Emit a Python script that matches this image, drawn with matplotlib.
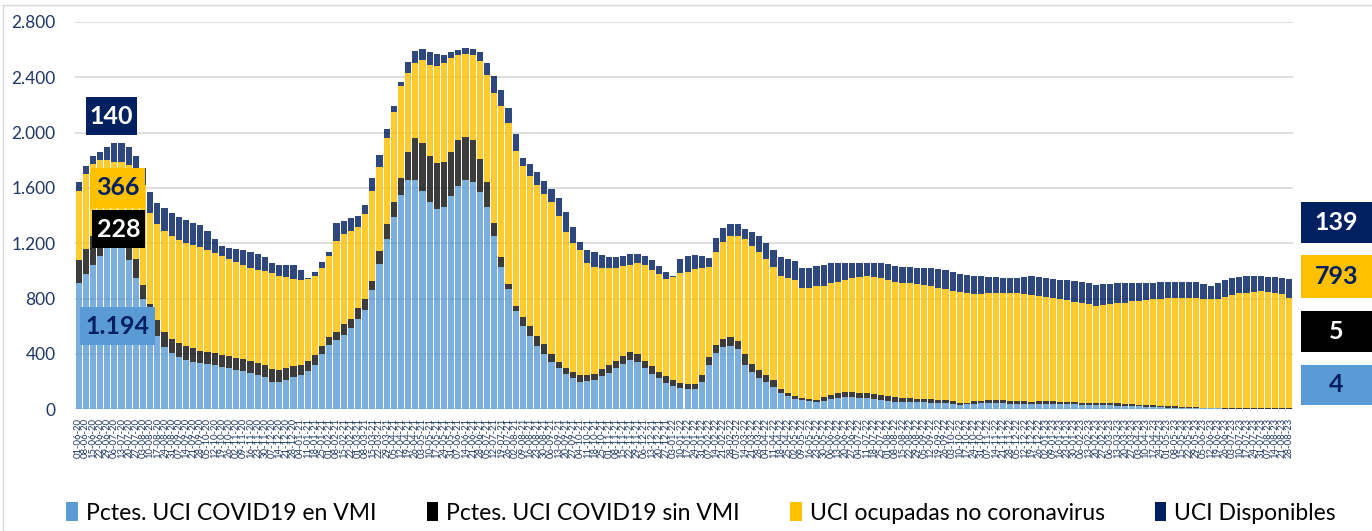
import matplotlib
matplotlib.use("Agg")
import matplotlib.pyplot as plt
import numpy as np
import pandas as pd
from matplotlib.patches import Rectangle, Patch
from matplotlib.lines import Line2D

# ---------------- data (weekly) ----------------
fechas = pd.date_range("2020-06-01", "2023-08-28", freq="7D").strftime("%d-%m-%y").tolist()

# stacked levels (top of each layer)
tope_vmi = [
    912, 975, 1040, 1110, 1165, 1194, 1170, 1080, 950, 800,
    650, 530, 450, 410, 380, 357, 345, 335, 325, 318,
    305, 295, 285, 275, 265, 250, 235, 200, 195, 215,
    235, 250, 280, 320, 400, 465, 500, 540, 590, 650,
    720, 860, 1050, 1230, 1390, 1550, 1660, 1660, 1580, 1500,
    1445, 1460, 1540, 1615, 1655, 1640, 1570, 1465, 1250, 1030,
    870, 710, 600, 530, 460, 400, 340, 300, 255, 225,
    200, 205, 210, 240, 265, 295, 330, 357, 340, 295,
    255, 225, 190, 170, 152, 145, 145, 200, 320, 410,
    450, 460, 435, 320, 270, 228, 195, 164, 115, 95,
    75, 65, 60, 56, 62, 72, 82, 91, 88, 83,
    80, 74, 68, 62, 56, 55, 55, 53, 51, 49,
    47, 44, 38, 31, 36, 41, 43, 43, 43, 42,
    40, 40, 39, 39, 39, 39, 38, 37, 36, 35,
    34, 33, 32, 31, 29, 27, 25, 23, 21, 19,
    17, 15, 13, 12, 11, 10, 9, 8, 7, 6,
    5, 5, 5, 5, 5, 5, 4, 4, 4, 4,
]
tope_sin_vmi = [
    1081, 1160, 1250, 1330, 1390, 1422, 1400, 1260, 1090, 900,
    760, 647, 560, 510, 480, 455, 440, 425, 415, 405,
    395, 385, 372, 362, 350, 335, 320, 290, 284, 300,
    312, 322, 350, 390, 455, 520, 560, 615, 655, 730,
    800, 930, 1145, 1340, 1500, 1675, 1860, 1960, 1925, 1830,
    1779, 1785, 1860, 1945, 1970, 1950, 1810, 1640, 1350, 1100,
    905, 750, 670, 600, 530, 470, 400, 345, 300, 270,
    248, 250, 258, 290, 320, 350, 385, 417, 400, 350,
    315, 270, 240, 210, 188, 182, 180, 245, 380, 465,
    510, 520, 495, 400, 330, 285, 245, 212, 150, 120,
    95, 80, 72, 68, 90, 104, 115, 127, 125, 121,
    115, 108, 104, 96, 88, 84, 81, 78, 75, 72,
    70, 67, 58, 46, 48, 58, 63, 65, 67, 64,
    61, 60, 57, 55, 58, 60, 58, 55, 54, 51,
    48, 48, 48, 45, 43, 42, 40, 38, 34, 31,
    29, 26, 24, 21, 19, 17, 14, 12, 10, 10,
    10, 10, 10, 10, 10, 10, 10, 10, 10, 9,
]
tope_ocupadas = [
    1576, 1700, 1770, 1800, 1800, 1788, 1790, 1765, 1720, 1620,
    1420, 1340, 1290, 1255, 1225, 1205, 1190, 1172, 1150, 1128,
    1110, 1085, 1062, 1045, 1025, 1010, 997, 985, 965, 955,
    945, 935, 945, 965, 1020, 1110, 1220, 1265, 1290, 1320,
    1410, 1580, 1755, 1960, 2150, 2340, 2430, 2505, 2525, 2490,
    2485, 2505, 2540, 2565, 2572, 2563, 2515, 2420, 2290, 2190,
    2070, 1870, 1760, 1685, 1620, 1560, 1500, 1400, 1285, 1205,
    1150, 1055, 1030, 1019, 1019, 1019, 1035, 1045, 1055, 1040,
    1010, 975, 940, 955, 983, 995, 1015, 1025, 1030, 1140,
    1210, 1250, 1255, 1230, 1180, 1135, 1090, 1031, 965, 950,
    938, 880, 880, 888, 893, 910, 922, 938, 950, 960,
    962, 955, 946, 932, 918, 914, 912, 908, 900, 891,
    880, 869, 858, 845, 838, 835, 834, 838, 843, 844,
    844, 840, 833, 826, 820, 811, 804, 794, 788, 778,
    770, 758, 748, 755, 760, 765, 772, 780, 786, 790,
    795, 800, 803, 803, 803, 803, 803, 800, 796, 800,
    815, 826, 838, 844, 850, 856, 850, 842, 830, 802,
]
tope_total = [
    1640, 1760, 1830, 1860, 1895, 1928, 1928, 1895, 1830, 1745,
    1570, 1490, 1455, 1420, 1390, 1370, 1350, 1330, 1290, 1230,
    1180, 1168, 1160, 1150, 1135, 1122, 1100, 1060, 1045, 1044,
    1040, 1010, 950, 990, 1065, 1140, 1345, 1362, 1385, 1400,
    1480, 1670, 1840, 2030, 2190, 2365, 2510, 2590, 2608, 2580,
    2568, 2562, 2585, 2600, 2610, 2604, 2580, 2500, 2410, 2310,
    2180, 1990, 1820, 1770, 1715, 1650, 1590, 1530, 1430, 1320,
    1210, 1155, 1138, 1115, 1104, 1104, 1106, 1120, 1122, 1108,
    1080, 1035, 995, 962, 1085, 1105, 1114, 1105, 1095, 1240,
    1310, 1342, 1340, 1300, 1280, 1255, 1200, 1150, 1104, 1085,
    1072, 1025, 1020, 1035, 1045, 1056, 1058, 1060, 1060, 1060,
    1060, 1058, 1055, 1048, 1035, 1030, 1028, 1025, 1022, 1019,
    1013, 1007, 990, 975, 970, 966, 963, 960, 955, 952,
    948, 948, 955, 962, 955, 948, 942, 937, 934, 928,
    922, 912, 900, 903, 906, 910, 911, 913, 915, 916,
    916, 917, 919, 921, 923, 920, 917, 908, 893, 915,
    935, 950, 959, 962, 964, 964, 960, 954, 948, 941,
]

series_names = ["Pctes. UCI COVID19 en VMI", "Pctes. UCI COVID19 sin VMI",
                "UCI ocupadas no coronavirus", "UCI Disponibles"]
y_ticks = [0, 400, 800, 1200, 1600, 2000, 2400, 2800]

# ---------------- derived layers ----------------
t_vmi = np.array(tope_vmi, float)
t_sin = np.array(tope_sin_vmi, float)
t_ocu = np.array(tope_ocupadas, float)
t_tot = np.array(tope_total, float)
vmi = t_vmi
sin_vmi = t_sin - t_vmi
ocupadas = t_ocu - t_sin
disponibles = t_tot - t_ocu

C_BLUE = "#5B9BD5"
C_BLACK = "#111111"
C_YELLOW = "#FFC000"
C_NAVY = "#002060"
TXT = "#1F3864"

plt.rcParams["font.family"] = ["Lato", "DejaVu Sans"]

W, H = 1372, 531
fig = plt.figure(figsize=(W / 100, H / 100), dpi=100)
ax = fig.add_axes([75 / W, 1 - 409.3 / H, (1293 - 75) / W, (409.3 - 22) / H])

x = np.arange(len(fechas))
bw = 0.86
ax.bar(x, vmi, bw, color=C_BLUE, linewidth=0, alpha=0.8)
ax.bar(x, sin_vmi, bw, bottom=t_vmi, color=C_BLACK, linewidth=0, alpha=0.82)
ax.bar(x, ocupadas, bw, bottom=t_sin, color=C_YELLOW, linewidth=0, alpha=0.82)
ax.bar(x, disponibles, bw, bottom=t_ocu, color=C_NAVY, linewidth=0, alpha=0.82)

ax.set_xlim(-0.5, len(fechas) - 0.5)
ax.set_ylim(0, 2800)
ax.set_yticks(y_ticks)
ax.set_yticklabels([f"{v:,}".replace(",", ".") for v in y_ticks], fontsize=12.5, color=TXT)
ax.set_xticks(x)
ax.set_xticklabels(fechas, rotation=90, fontsize=6.8, color=TXT)
ax.tick_params(axis="both", length=0)
ax.tick_params(axis="y", pad=14)
ax.tick_params(axis="x", pad=6)
for s in ax.spines.values():
    s.set_visible(False)
ax.grid(axis="y", color="#D9D9D9", linewidth=1.2)
ax.set_axisbelow(True)

# value boxes
def box(x0, y0, x1, y1, color, text, tcolor):
    fig.patches.append(Rectangle((x0 / W, 1 - y1 / H), (x1 - x0) / W, (y1 - y0) / H,
                                 transform=fig.transFigure, facecolor=color,
                                 edgecolor="none", zorder=5))
    fig.text((x0 + x1) / 2 / W, 1 - (y0 + y1) / 2 / H, text, ha="center", va="center",
             fontsize=18, fontweight="bold", color=tcolor, zorder=6)

fmt = lambda v: f"{int(round(v)):,}".replace(",", ".")
ip = 5
box(86, 97, 137, 135, C_NAVY, fmt(disponibles[ip]), "white")
box(90, 168, 145, 208, C_YELLOW, fmt(ocupadas[ip]), C_NAVY)
box(92, 210, 145, 248, "black", fmt(sin_vmi[ip]), "white")
box(80, 307, 155, 345, C_BLUE, fmt(vmi[ip]), C_NAVY)
il = len(fechas) - 1
box(1301, 202, 1372, 243, C_NAVY, fmt(disponibles[il]), "white")
box(1301, 255, 1372, 298, C_YELLOW, fmt(ocupadas[il]), C_NAVY)
box(1301, 311, 1372, 352, "black", fmt(sin_vmi[il]), "white")
box(1301, 365, 1372, 405, C_BLUE, fmt(vmi[il]), C_NAVY)

# legend
handles = [Patch(facecolor=c, edgecolor="none") for c in (C_BLUE, "black", C_YELLOW, C_NAVY)]
fig.legend(handles, series_names, loc="center", bbox_to_anchor=(0.511, 1 - 513 / H),
           ncol=4, frameon=False, fontsize=16.5, handlelength=0.5, handleheight=0.9,
           handletextpad=0.35, columnspacing=2.2, labelcolor="black")

# outer frame lines
fig.add_artist(Line2D([3 / W, 3 / W], [0, 1 - 5 / H], transform=fig.transFigure, color="#D9D9D9", lw=1))
fig.add_artist(Line2D([3 / W, 1], [1 - 5 / H, 1 - 5 / H], transform=fig.transFigure, color="#D9D9D9", lw=1))

fig.savefig("out.png", dpi=100)
